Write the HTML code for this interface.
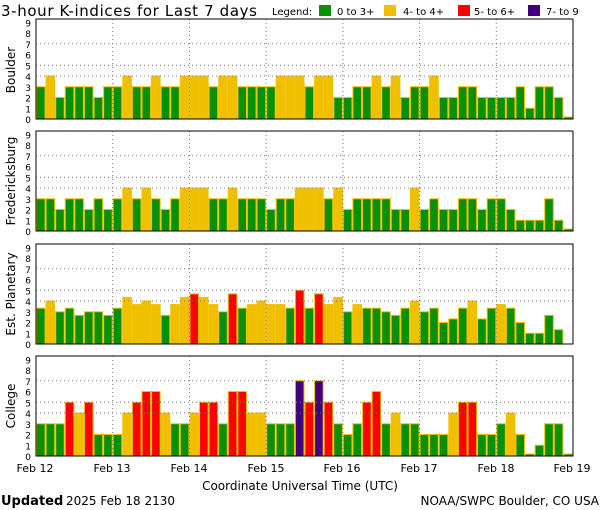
<!DOCTYPE html>
<html><head><meta charset="utf-8"><style>
html,body{margin:0;padding:0;background:#fff;width:600px;height:510px;overflow:hidden}
svg{display:block}
text{font-family:"DejaVu Sans","Liberation Sans",sans-serif;fill:#000}
</style></head><body>
<svg id="s" width="600" height="510" viewBox="0 0 600 510" xmlns="http://www.w3.org/2000/svg">
<text x="1" y="16" font-size="15" textLength="256" lengthAdjust="spacing">3-hour K-indices for Last 7 days</text>
<text x="272" y="15" font-size="10">Legend:</text>
<rect x="319" y="5" width="12" height="11" fill="#089008"/><text x="337" y="15" font-size="10">0 to 3+</text>
<rect x="384" y="5" width="12" height="11" fill="#f0c000"/><text x="403" y="15" font-size="10">4- to 4+</text>
<rect x="458" y="5" width="12" height="11" fill="#ff0000"/><text x="474" y="15" font-size="10">5- to 6+</text>
<rect x="528" y="5" width="12" height="11" fill="#400080"/><text x="546" y="15" font-size="10">7- to 9</text>
<g id="panels"></g>
<g font-size="11">
<text x="35" y="472" text-anchor="middle">Feb 12</text>
<text x="112" y="472" text-anchor="middle">Feb 13</text>
<text x="189" y="472" text-anchor="middle">Feb 14</text>
<text x="266" y="472" text-anchor="middle">Feb 15</text>
<text x="342" y="472" text-anchor="middle">Feb 16</text>
<text x="419" y="472" text-anchor="middle">Feb 17</text>
<text x="496" y="472" text-anchor="middle">Feb 18</text>
<text x="572" y="472" text-anchor="middle">Feb 19</text>
</g>
<text x="300" y="490" font-size="12" text-anchor="middle">Coordinate Universal Time (UTC)</text>
<text x="1" y="505" font-size="13" font-family="Liberation Serif,serif" font-weight="bold">Updated</text>
<text x="66" y="505" font-size="12">2025 Feb 18 2130</text>
<text x="599" y="505" font-size="12" text-anchor="end">NOAA/SWPC Boulder, CO USA</text>
<text transform="translate(15,70) rotate(-90)" font-size="12" text-anchor="middle">Boulder</text>
<text transform="translate(15,181) rotate(-90)" font-size="12" text-anchor="middle">Fredericksburg</text>
<text transform="translate(15,294) rotate(-90)" font-size="12" text-anchor="middle">Est. Planetary</text>
<text transform="translate(15,406) rotate(-90)" font-size="12" text-anchor="middle">College</text>
</svg>
<script>
var B=[3,4,2,3,3,3,2,3, 3,4,3,3,4,3,3,4, 4,4,3,4,4,3,3,3, 3,4,4,4,3,4,4,2, 2,3,3,4,3,4,2,3, 3,4,2,2,3,3,2,2, 2,2,3,1,3,3,2,0];
var F=[3,3,2,3,3,2,3,2, 3,4,3,4,3,2,3,4, 4,4,3,3,4,3,3,3, 2,3,3,4,4,4,3,4, 2,3,3,3,3,2,2,4, 2,3,2,2,3,3,2,3, 3,2,1,1,1,3,1,0];
var a=1/3,b=2/3;
var P=[3+a,4,3,3+a,2+b,3,3,2+b, 3+a,4+a,3+b,4,3+b,2+b,3+b,4+a, 4+b,4+a,3+b,3,4+b,3+a,3+b,4, 3+b,3+b,3+a,5,3+a,4+b,3+b,4+a, 3,3+b,3+a,3+a,3,2+b,3+a,4, 3,3+a,2,2+a,3+a,4,2+a,3+a, 3+b,3+a,2,1,1,2+b,1+a,-1];
var C=[3,3,3,5,4,5,2,2, 2,4,5,6,6,4,3,3, 4,5,5,3,6,6,4,4, 3,3,3,7,5,7,5,3, 2,3,5,6,3,4,3,3, 2,2,2,4,5,5,2,2, 3,4,2,0,1,3,3,0];
var data=[B,F,P,C], bottoms=[119,231,344,456];
var x0=36,W=537,bw=W/56,u=10.75,g=document.getElementById('panels'),h='';
function col(v){v=Math.round(v*3)/3; if(v<3.5)return '#089008'; if(v<4.5)return '#f0c000'; if(v<6.9)return '#ff0000'; return '#400080';}
data.forEach(function(d,p){
 var yb=bottoms[p],yt=yb-100;
 d.forEach(function(v,i){ if(v<0)return; var x=x0+i*bw,hh=v>0?v*u:2;
  h+='<rect x="'+(x+0.5).toFixed(2)+'" y="'+(yb-hh).toFixed(2)+'" width="'+(bw-1).toFixed(2)+'" height="'+hh.toFixed(2)+'" fill="'+col(v)+'" stroke="#f0c000" stroke-width="1"/>';});
 [4,5,7].forEach(function(k){var y=yb-k*u;h+='<line x1="'+x0+'" x2="'+(x0+W)+'" y1="'+y+'" y2="'+y+'" stroke="#777" stroke-dasharray="1,3"/>';});
 for(var dd=1;dd<7;dd++){var x=x0+dd*W/7;h+='<line x1="'+x+'" x2="'+x+'" y1="'+yt+'" y2="'+yb+'" stroke="#777" stroke-dasharray="1,3"/>';}
 h+='<rect x="'+x0+'" y="'+yt+'" width="'+W+'" height="100" fill="none" stroke="#000" stroke-width="1"/>';
 for(var k=0;k<=9;k++){h+='<text x="31" y="'+(yb-k*u+4).toFixed(1)+'" font-size="9" text-anchor="end">'+k+'</text>';}
});
g.innerHTML=h;
</script>
</body></html>
